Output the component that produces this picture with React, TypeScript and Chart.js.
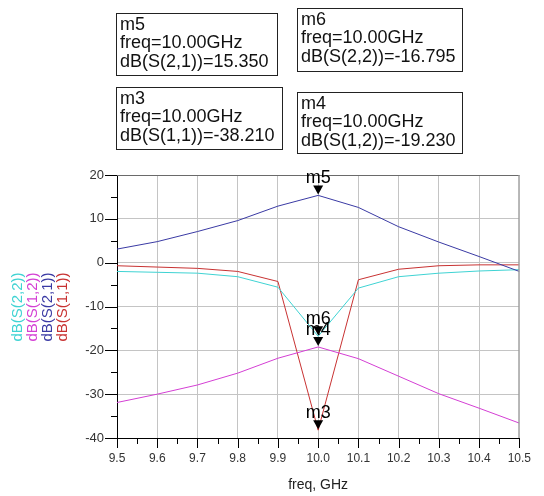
import React, { useEffect, useRef } from "react";
import { Chart, registerables } from "chart.js";

Chart.register(...registerables);

const freq = [9.5, 9.6, 9.7, 9.8, 9.9, 10.0, 10.1, 10.2, 10.3, 10.4, 10.5];
const s21 = [3.1, 4.8, 7.1, 9.6, 12.9, 15.35, 12.6, 8.2, 4.7, 1.4, -2.0];
const s11 = [-0.7, -1.0, -1.3, -2.0, -4.3, -38.21, -3.9, -1.5, -0.7, -0.5, -0.5];
const s22 = [-2.0, -2.2, -2.4, -3.2, -5.6, -16.795, -5.8, -3.2, -2.4, -1.9, -1.6];
const s12 = [-31.9, -30.0, -27.9, -25.2, -21.8, -19.23, -21.9, -25.9, -29.9, -33.2, -36.6];

const seriesNames = ["dB(S(2,2))", "dB(S(1,2))", "dB(S(2,1))", "dB(S(1,1))"];
const seriesColors = ["#3fd3d3", "#d43fd4", "#3a3aa4", "#c83232"];

const markerNames = ["m5", "m6", "m3", "m4"];
const markerFreq = [10.0, 10.0, 10.0, 10.0];
const markerValues = [15.35, -16.795, -38.21, -19.23];
const markerTraces = ["dB(S(2,1))", "dB(S(2,2))", "dB(S(1,1))", "dB(S(1,2))"];
const markerValueText = ["15.350", "-16.795", "-38.210", "-19.230"];
// box positions (left, top, width, height) for marker readouts
const markerBoxes = [
  [116, 13, 161, 62],
  [297, 8, 165, 63],
  [116, 87, 166, 62],
  [297, 92, 165, 61],
];

const xMin = 9.5;
const xMax = 10.5;
const yMin = -40;
const yMax = 20;

const overlay = {
  id: "overlay",
  afterDraw(chart: any) {
    const ctx = chart.ctx as CanvasRenderingContext2D;
    const ca = chart.chartArea;
    const xs = chart.scales.x;
    const ys = chart.scales.y;
    ctx.save();
    // top & right frame
    ctx.lineWidth = 1;
    ctx.strokeStyle = "#6a6a6a";
    ctx.beginPath();
    ctx.moveTo(ca.left, ca.top + 0.5);
    ctx.lineTo(ca.right, ca.top + 0.5);
    ctx.stroke();
    ctx.strokeStyle = "#9a9a9a";
    ctx.beginPath();
    ctx.moveTo(ca.right - 0.5, ca.top);
    ctx.lineTo(ca.right - 0.5, ca.bottom);
    ctx.stroke();

    // tick marks
    ctx.strokeStyle = "#000";
    for (let v = yMin; v <= yMax; v += 5) {
      const y = Math.round(ys.getPixelForValue(v)) + 0.5;
      const len = v % 10 === 0 ? 12 : 6;
      ctx.beginPath();
      ctx.moveTo(ca.left - len, y);
      ctx.lineTo(ca.left, y);
      ctx.stroke();
    }
    for (let i = 0; i <= 20; i++) {
      const v = xMin + i * 0.05;
      const x = Math.round(xs.getPixelForValue(v)) + 0.5;
      const len = i % 2 === 0 ? 10 : 6;
      ctx.beginPath();
      ctx.moveTo(x, ca.bottom);
      ctx.lineTo(x, ca.bottom + len);
      ctx.stroke();
    }

    // rotated legend
    ctx.font = "15px 'Liberation Sans', Arial, sans-serif";
    ctx.textAlign = "center";
    ctx.textBaseline = "middle";
    seriesNames.forEach((name, i) => {
      ctx.save();
      ctx.translate(18 + i * 15, 307);
      ctx.rotate(-Math.PI / 2);
      ctx.fillStyle = seriesColors[i];
      ctx.fillText(name, 0, 0);
      ctx.restore();
    });

    // markers on traces
    markerNames.forEach((name, i) => {
      const px = xs.getPixelForValue(markerFreq[i]);
      const py = ys.getPixelForValue(markerValues[i]);
      ctx.fillStyle = "#000";
      ctx.beginPath();
      ctx.moveTo(px, py - 1);
      ctx.lineTo(px - 5, py - 10);
      ctx.lineTo(px + 5, py - 10);
      ctx.closePath();
      ctx.fill();
      ctx.font = "18px 'Liberation Sans', Arial, sans-serif";
      ctx.textAlign = "center";
      ctx.textBaseline = "alphabetic";
      ctx.fillText(name, px, py - 12);
    });

    // marker readout boxes
    markerNames.forEach((name, i) => {
      const [bx, by, bw, bh] = markerBoxes[i];
      ctx.fillStyle = "#fff";
      ctx.fillRect(bx, by, bw, bh);
      ctx.strokeStyle = "#222";
      ctx.lineWidth = 1;
      ctx.strokeRect(bx + 0.5, by + 0.5, bw, bh);
      ctx.fillStyle = "#111";
      ctx.font = "18px 'Liberation Sans', Arial, sans-serif";
      ctx.textAlign = "left";
      ctx.textBaseline = "middle";
      ctx.fillText(name, bx + 4, by + 12);
      ctx.fillText("freq=" + markerFreq[i].toFixed(2) + "GHz", bx + 4, by + 30);
      ctx.fillText(markerTraces[i] + "=" + markerValueText[i], bx + 4, by + 49);
    });
    ctx.restore();
  },
};

export default function App() {
  const ref = useRef<HTMLCanvasElement>(null);
  useEffect(() => {
    if (!ref.current) return;
    const mk = (label: string, data: number[], color: string) => ({
      label,
      data: freq.map((f, i) => ({ x: f, y: data[i] })),
      borderColor: color,
      backgroundColor: color,
      borderWidth: 1,
      pointRadius: 0,
      tension: 0,
      fill: false,
    });
    const chart = new Chart(ref.current, {
      type: "line",
      data: {
        datasets: [
          mk("dB(S(2,1))", s21, seriesColors[2]),
          mk("dB(S(2,2))", s22, seriesColors[0]),
          mk("dB(S(1,2))", s12, seriesColors[1]),
          mk("dB(S(1,1))", s11, seriesColors[3]),
        ],
      },
      options: {
        responsive: false,
        animation: false,
        layout: { padding: { left: 0, right: 11, top: 175, bottom: 0 } },
        plugins: { legend: { display: false }, tooltip: { enabled: false } },
        scales: {
          x: {
            type: "linear",
            min: xMin,
            max: xMax,
            afterFit: (s: any) => {
              s.height = 58;
            },
            ticks: {
              stepSize: 0.1,
              padding: 13,
              color: "#333",
              font: { family: "'Liberation Sans', Arial, sans-serif", size: 12 },
              callback: (v: any) => Number(v).toFixed(1),
              maxRotation: 0,
              autoSkip: false,
            },
            grid: { color: "#c4c4c4", drawTicks: false, lineWidth: 1 },
            border: { color: "#000", width: 1 },
            title: {
              display: true,
              text: "freq, GHz",
              color: "#222",
              font: { family: "'Liberation Sans', Arial, sans-serif", size: 14 },
              padding: { top: 4, bottom: 2 },
            },
          },
          y: {
            type: "linear",
            min: yMin,
            max: yMax,
            afterFit: (s: any) => {
              s.width = 117;
            },
            ticks: {
              stepSize: 10,
              padding: 13,
              color: "#333",
              font: { family: "'Liberation Sans', Arial, sans-serif", size: 13 },
            },
            grid: { color: "#c4c4c4", drawTicks: false, lineWidth: 1 },
            border: { color: "#000", width: 1 },
          },
        },
      },
      plugins: [overlay],
    });
    return () => chart.destroy();
  }, []);
  return (
    <div style={{ position: "absolute", left: 0, top: 0, width: 544, height: 496, background: "#fff" }}>
      <canvas ref={ref} width={544} height={496} />
    </div>
  );
}
